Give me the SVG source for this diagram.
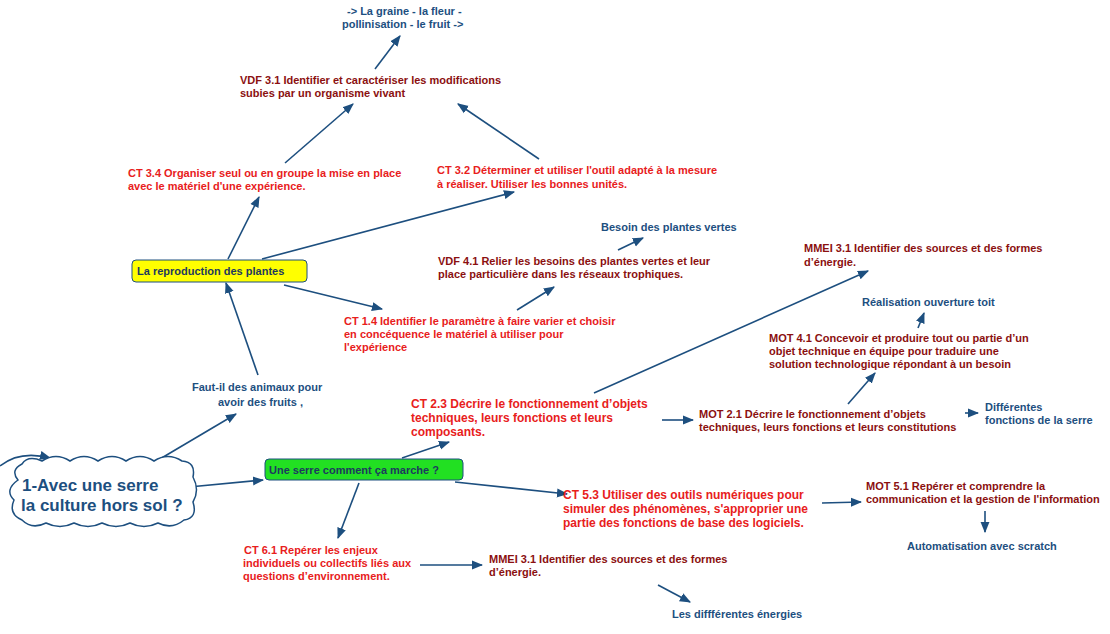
<svg xmlns="http://www.w3.org/2000/svg" width="1110" height="634" viewBox="0 0 1110 634">
<style>
text{font-family:"Liberation Sans",Arial,sans-serif;font-weight:bold;font-size:11px}
.b{fill:#1d4f7f}.d{fill:#8b1010}.r{fill:#e8201c}
.c line,.c path{stroke:#1d4f7f;stroke-width:1.6;fill:none;marker-end:url(#a)}
</style>
<defs><marker id="a" viewBox="0 0 10 10" refX="9" refY="5" markerWidth="7" markerHeight="7" orient="auto"><path d="M0,1L10,5L0,9z" fill="#1d4f7f"/></marker></defs>
<rect width="1110" height="634" fill="#fff"/>
<g class="c">
<path d="M0,466 Q20,450 50,458"/>
<line x1="143" y1="469" x2="236" y2="414"/>
<line x1="189" y1="487" x2="263" y2="480"/>
<line x1="258" y1="375" x2="226" y2="283"/>
<line x1="228" y1="259" x2="259" y2="197"/>
<line x1="285" y1="163" x2="353" y2="104"/>
<line x1="375" y1="69" x2="400" y2="36"/>
<line x1="262" y1="259" x2="514" y2="192"/>
<line x1="539" y1="159" x2="458" y2="104"/>
<line x1="284" y1="285" x2="382" y2="309"/>
<line x1="517" y1="310" x2="554" y2="287"/>
<line x1="618" y1="250" x2="643" y2="238"/>
<line x1="402" y1="458" x2="449" y2="442"/>
<line x1="594" y1="393" x2="868" y2="271"/>
<line x1="662" y1="420" x2="693" y2="420"/>
<line x1="848" y1="404" x2="875" y2="373"/>
<line x1="918" y1="328" x2="924" y2="313"/>
<line x1="965" y1="413" x2="978" y2="413"/>
<line x1="455" y1="482" x2="567" y2="494"/>
<line x1="822" y1="503" x2="861" y2="502"/>
<line x1="985" y1="511" x2="985" y2="532"/>
<line x1="359" y1="483" x2="338" y2="538"/>
<line x1="420" y1="565" x2="482" y2="565"/>
<line x1="658" y1="585" x2="690" y2="602"/>
</g>
<g id="cloud"><path d="M18,480 Q10,470 22,464 Q28,455 42,461 Q56,452 70,461 Q84,452 98,461 Q112,452 126,461 Q140,452 154,461 Q168,452 182,461 Q196,462 193,477 Q200,490 193,502 Q198,518 184,520 Q172,530 158,523 Q144,530 130,523 Q116,530 102,523 Q88,530 74,523 Q60,530 46,523 Q32,530 22,520 Q8,514 14,500 Q4,490 18,480Z" fill="#fff" stroke="#1d4f7f" stroke-width="1.5"/>
<text class="b" x="22" y="491" style="font-size:17px">1-Avec une serre</text><text class="b" x="21" y="511" style="font-size:17px">la culture hors sol ?</text></g>
<g id="repro"><rect x="132" y="260" width="175" height="22" rx="4" fill="#ffff00" stroke="#1d4f7f"/><text x="137" y="275" fill="#1d3a5f">La reproduction des plantes</text></g>
<g id="serre"><rect x="265" y="459" width="198" height="21" rx="4" fill="#22e022" stroke="#1d4f7f"/><text x="269" y="474" fill="#1d3a5f">Une serre comment ça marche ?</text></g>
<g id="faut"><text class="b" x="192" y="391">Faut-il des animaux pour</text><text class="b" x="218" y="406">avoir des fruits ,</text></g>
<g id="graine"><text class="b" x="347" y="15">-&gt; La graine - la fleur -</text><text class="b" x="342" y="28">pollinisation - le fruit -&gt;</text></g>
<g id="vdf31"><text class="d" x="240" y="84">VDF 3.1 Identifier et caractériser les modifications</text><text class="d" x="240" y="97">subies par un organisme vivant</text></g>
<g id="ct34"><text class="r" x="128" y="177">CT 3.4 Organiser seul ou en groupe la mise en place</text><text class="r" x="128" y="190">avec le matériel d'une expérience.</text></g>
<g id="ct32"><text class="r" x="437" y="174">CT 3.2 Déterminer et utiliser l'outil adapté à la mesure</text><text class="r" x="437" y="188">à réaliser. Utiliser les bonnes unités.</text></g>
<g id="besoin"><text class="b" x="601" y="231">Besoin des plantes vertes</text></g>
<g id="vdf41"><text class="d" x="438" y="265">VDF 4.1 Relier les besoins des plantes vertes et leur</text><text class="d" x="438" y="278">place particulière dans les réseaux trophiques.</text></g>
<g id="ct14"><text class="r" x="344" y="325">CT 1.4 Identifier le paramètre à faire varier et choisir</text><text class="r" x="344" y="338">en concéquence le matériel à utiliser pour</text><text class="r" x="344" y="351">l'expérience</text></g>
<g id="mmei1"><text class="d" x="804" y="252">MMEI 3.1 Identifier des sources et des formes</text><text class="d" x="804" y="266">d’énergie.</text></g>
<g id="toit"><text class="b" x="862" y="306">Réalisation ouverture toit</text></g>
<g id="mot41"><text class="d" x="769" y="342">MOT 4.1 Concevoir et produire tout ou partie d’un</text><text class="d" x="769" y="355">objet technique en équipe pour traduire une</text><text class="d" x="769" y="368">solution technologique répondant à un besoin</text></g>
<g id="ct23"><text class="r" x="411" y="408" style="font-size:12px">CT 2.3 Décrire le fonctionnement d’objets</text><text class="r" x="411" y="422" style="font-size:12px">techniques, leurs fonctions et leurs</text><text class="r" x="411" y="436" style="font-size:12px">composants.</text></g>
<g id="mot21"><text class="d" x="699" y="418">MOT 2.1 Décrire le fonctionnement d’objets</text><text class="d" x="699" y="431">techniques, leurs fonctions et leurs constitutions</text></g>
<g id="diff"><text class="b" x="985" y="411">Différentes</text><text class="b" x="985" y="424">fonctions de la serre</text></g>
<g id="ct53"><text class="r" x="563" y="499" style="font-size:12px">CT 5.3 Utiliser des outils numériques pour</text><text class="r" x="563" y="513" style="font-size:12px">simuler des phénomènes, s'approprier une</text><text class="r" x="563" y="527" style="font-size:12px">partie des fonctions de base des logiciels.</text></g>
<g id="mot51"><text class="d" x="866" y="490">MOT 5.1 Repérer et comprendre la</text><text class="d" x="866" y="503">communication et la gestion de l'information</text></g>
<g id="scratch"><text class="b" x="907" y="550">Automatisation avec scratch</text></g>
<g id="ct61"><text class="r" x="244" y="554">CT 6.1 Repérer les enjeux</text><text class="r" x="243" y="567">individuels ou collectifs liés aux</text><text class="r" x="243" y="580">questions  d’environnement.</text></g>
<g id="mmei2"><text class="d" x="489" y="563">MMEI 3.1 Identifier des sources et des formes</text><text class="d" x="489" y="576">d’énergie.</text></g>
<g id="energies"><text class="b" x="672" y="618">Les diffférentes énergies</text></g>
</svg>
